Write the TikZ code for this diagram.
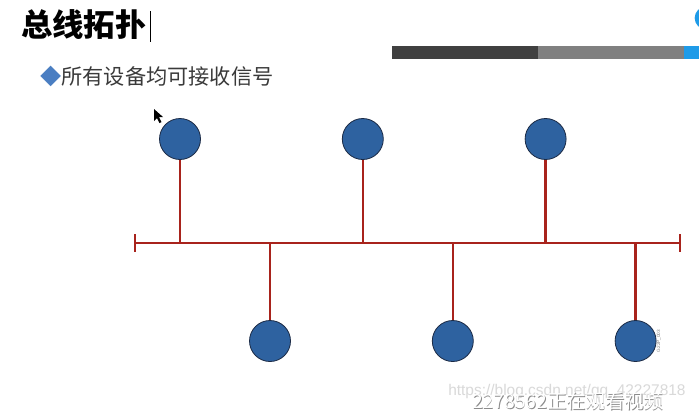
\documentclass[tikz,border=0pt]{standalone}
\usepackage{fontspec}
\newfontfamily\cjk{Noto Sans CJK SC}
\setsansfont{Liberation Sans}
\usetikzlibrary{positioning}
\definecolor{busred}{HTML}{A8231C}
\definecolor{hostblue}{HTML}{2E62A0}
\definecolor{hostedge}{HTML}{1B2A45}
\definecolor{bardark}{HTML}{404040}
\definecolor{bargray}{HTML}{808080}
\definecolor{barblue}{HTML}{1E9BE8}
\definecolor{bulletblue}{HTML}{4A7EC2}
\definecolor{bodytext}{HTML}{3A3A3A}

\begin{document}
\begin{tikzpicture}[
    x=0.75pt, y=-0.75pt,
    node distance=105.75pt,
    host/.style={circle, draw=hostedge, fill=hostblue, line width=0.6pt,
                 minimum size=30.75pt, inner sep=0pt},
    wire/.style={busred, line width=1.9pt},
    mark text/.style={inner sep=0pt, anchor=west}
  ]
  \clip (0,0) rectangle (699,412);
  \fill[white] (0,0) rectangle (699,412);

  % heading and bullet
  \node[mark text, font=\cjk\bfseries\fontsize{23.5}{24}\selectfont] (title) at (21,25) {总线拓扑};
  \draw[line width=0.6pt] (150,11) -- (150,42);
  \node[mark text, text=bodytext, font=\cjk\fontsize{15.9}{17}\selectfont] (point) at (40,76)
    {{\color{bulletblue}◆}所有设备均可接收信号};

  % header bars
  \fill[bardark] (392,46) rectangle (538,59);
  \fill[bargray] (538,46) rectangle (684,59);
  \fill[barblue] (684,46) rectangle (699,59);
  \fill[barblue] (706,18) circle[radius=8.5pt];

  % mouse pointer
  \fill (154,109) -- (154,121) -- (157,118) -- (159.5,123) -- (161.5,122) -- (159,117) -- (163,117) -- cycle;

  % bus
  \coordinate (busL) at (135,243);
  \coordinate (busR) at (680,243);
  \draw[wire] (busL) -- (busR);
  \draw[wire] ([yshift=6.75pt]busL) -- ([yshift=-6.75pt]busL);
  \draw[wire] ([yshift=6.75pt]busR) -- ([yshift=-6.75pt]busR);

  % hosts
  \node[host] (t1) at (180,139) {};
  \node[host, right=of t1] (t2) {};
  \node[host, right=of t2] (t3) {};
  \node[host] (b1) at (270,341) {};
  \node[host, right=of b1] (b2) {};
  \node[host, right=of b2] (b3) {};
  \foreach \h in {t1,t2,t3,b1,b2,b3}
    \draw[wire] (\h) -- (\h |- busL);

  \node[rotate=90, inner sep=0pt, text=gray, font=\sffamily\fontsize{3.5}{4}\selectfont]
    (tag) at (659,341) {G22P\_003};

  % watermarks
  \node[mark text, text=black!15, font=\sffamily\fontsize{11.6}{12}\selectfont] (url) at (448,391)
    {https://blog.csdn.net/qq\_42227818};
  \node[mark text, text=black!45, font=\cjk\fontsize{14.5}{15}\selectfont] (viewshade) at (472.8,401.8)
    {2278562正在观看视频};
  \node[mark text, text=white, font=\cjk\fontsize{14.5}{15}\selectfont] (view) at (472,401)
    {2278562正在观看视频};
\end{tikzpicture}
\end{document}
